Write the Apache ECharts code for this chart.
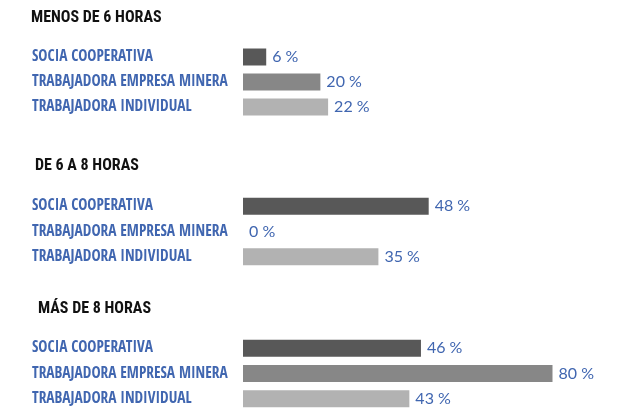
<!DOCTYPE html>
<html>
<head>
<meta charset="utf-8">
<script src="https://cdn.jsdelivr.net/npm/echarts@6/dist/echarts.min.js"></script>
<style>
  html, body { margin: 0; padding: 0; background: #ffffff; }
  #chart { width: 626px; height: 412px; }
</style>
</head>
<body>
<div id="chart"></div>
<script>
// Hours worked per day, by type of worker (percent)
const groupTitles = ['MENOS DE 6 HORAS', 'DE 6 A 8 HORAS', 'MÁS DE 8 HORAS'];
const categories = ['SOCIA COOPERATIVA', 'TRABAJADORA EMPRESA MINERA', 'TRABAJADORA INDIVIDUAL'];
const menosDe6 = [6, 20, 22];
const de6a8 = [48, 0, 35];
const masDe8 = [46, 80, 43];

const groupValues = [menosDe6, de6a8, masDe8];
const barColors = ['#585858', '#878787', '#b2b2b2'];
const labelBlue = '#4066b0';
const headerFont = '"Roboto Condensed", "DejaVu Sans Condensed", sans-serif';
const categoryFont = '"Open Sans Condensed", "Roboto Condensed", sans-serif';

// Layout of each block: header position and plotting band
const blocks = [
  { titleTop: 10,  titleLeft: 31, gridTop: 44.5,  gridHeight: 75 },
  { titleTop: 158, titleLeft: 35, gridTop: 193.5, gridHeight: 76 },
  { titleTop: 301, titleLeft: 38, gridTop: 335.5, gridHeight: 76 }
];

const chart = echarts.init(document.getElementById('chart'), null, { renderer: 'canvas' });

const option = {
  backgroundColor: '#ffffff',
  animation: false,
  title: blocks.map((b, i) => ({
    text: groupTitles[i],
    left: b.titleLeft,
    top: b.titleTop,
    padding: 0,
    textStyle: {
      fontFamily: headerFont,
      fontWeight: 'bold',
      fontSize: 16,
      color: '#111111'
    }
  })),
  grid: blocks.map(b => ({
    left: 243,
    right: 0,
    top: b.gridTop,
    height: b.gridHeight,
    containLabel: false
  })),
  xAxis: blocks.map((b, i) => ({
    type: 'value',
    gridIndex: i,
    min: 0,
    max: 99,
    show: false
  })),
  yAxis: blocks.map((b, i) => ({
    type: 'category',
    gridIndex: i,
    data: categories,
    inverse: true,
    axisLine: { show: false },
    axisTick: { show: false },
    splitLine: { show: false },
    axisLabel: {
      align: 'left',
      margin: 211,
      color: labelBlue,
      fontFamily: categoryFont,
      fontSize: 15.4
    }
  })),
  series: groupValues.map((vals, i) => ({
    type: 'bar',
    xAxisIndex: i,
    yAxisIndex: i,
    data: vals,
    barWidth: 17,
    itemStyle: { color: p => barColors[p.dataIndex] },
    label: {
      show: true,
      position: 'right',
      distance: 6,
      formatter: p => p.value + ' %',
      color: labelBlue,
      fontFamily: 'Lato, "Open Sans", sans-serif',
      fontSize: 16
    }
  }))
};

chart.setOption(option);
</script>
</body>
</html>
